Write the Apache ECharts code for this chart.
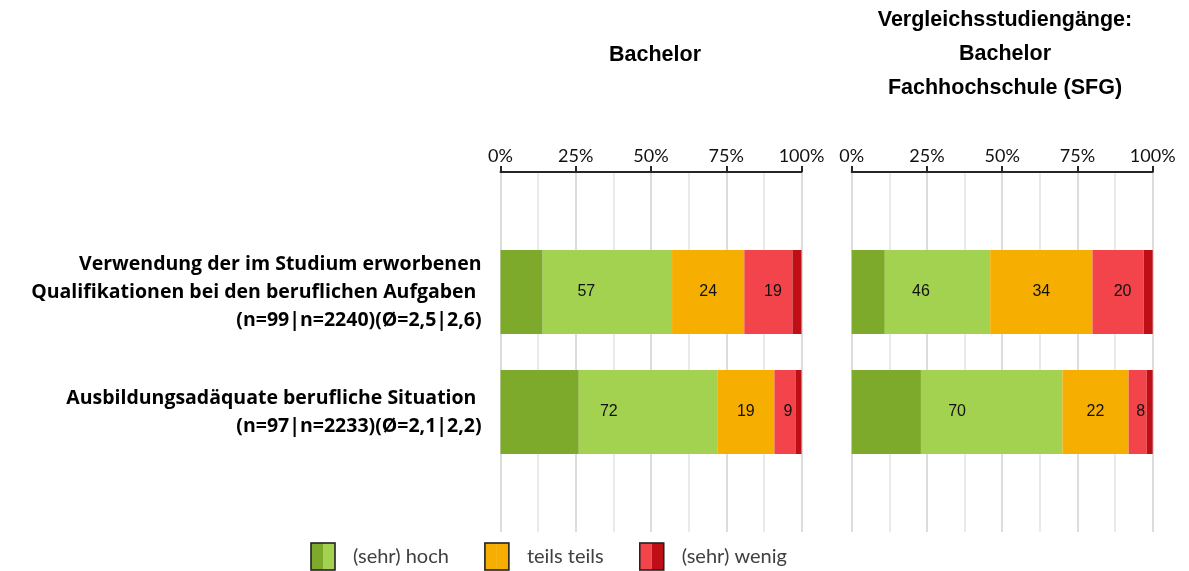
<!DOCTYPE html>
<html>
<head>
<meta charset="utf-8">
<script src="https://cdn.jsdelivr.net/npm/echarts@6/dist/echarts.min.js"></script>
<style>
html,body{margin:0;padding:0;background:#fff;}
#chart{width:1189px;height:571px;}
</style>
</head>
<body>
<div id="chart"></div>
<script>
// ---- data ----
const categories = [
  'Verwendung der im Studium erworbenen\nQualifikationen bei den beruflichen Aufgaben \n(n=99|n=2240)(Ø=2,5|2,6)',
  'Ausbildungsadäquate berufliche Situation \n(n=97|n=2233)(Ø=2,1|2,2)'
];
const panelTitles = ['Bachelor', 'Vergleichsstudiengänge:\nBachelor\nFachhochschule (SFG)'];
const tickValues = [0, 25, 50, 75, 100];
const legendNames = ['(sehr) hoch', 'teils teils', '(sehr) wenig'];

// Bachelor panel (row 1, row 2)
const bachelorSehrHoch  = [14, 26];
const bachelorHoch      = [43, 46];
const bachelorTeils     = [24, 19];
const bachelorWenig     = [16, 7];
const bachelorSehrWenig = [3, 2];

// Vergleich panel (row 1, row 2)
const sfgSehrHoch  = [11, 23];
const sfgHoch      = [35, 47];
const sfgTeils     = [34, 22];
const sfgWenig     = [17, 6];
const sfgSehrWenig = [3, 2];

// ---- styling ----
const C = {
  darkGreen: '#7EAA2C', lightGreen: '#A3D250', orange: '#F6AF00',
  lightRed: '#F2444A', darkRed: '#BF0E15'
};
const labelFont = 'Lato, "Open Sans", sans-serif';
const catFont = '"Open Sans", Lato, sans-serif';
const helv = '"Liberation Sans", Arial, sans-serif';

const panels = [
  {sh: bachelorSehrHoch, h: bachelorHoch, t: bachelorTeils, w: bachelorWenig, sw: bachelorSehrWenig},
  {sh: sfgSehrHoch, h: sfgHoch, t: sfgTeils, w: sfgWenig, sw: sfgSehrWenig}
];
const gridLefts = [500.5, 851.7];
const pad = a => ['-'].concat(a).concat(['-']);
const yCats = [''].concat(categories).concat(['']);

const grids = [], xAxes = [], yAxes = [], series = [];
panels.forEach((p, i) => {
  grids.push({left: gridLefts[i], top: 172, width: 301, height: 360, containLabel: false});
  xAxes.push({
    type: 'value', gridIndex: i, position: 'top', min: 0, max: 100, interval: 25,
    axisLine: {show: true, lineStyle: {color: '#262626', width: 2}},
    axisTick: {show: true, length: 6, lineStyle: {color: '#262626', width: 2}},
    axisLabel: {formatter: v => tickValues.indexOf(v) >= 0 ? v + '%' : '', fontFamily: labelFont, fontSize: 18, color: '#111', margin: 7},
    splitLine: {show: true, lineStyle: {color: '#dcdcdc', width: 2}},
    minorTick: {show: false, splitNumber: 2},
    minorSplitLine: {show: true, lineStyle: {color: '#e3e3e3', width: 1.5}}
  });
  yAxes.push({
    type: 'category', gridIndex: i, data: yCats, inverse: true, boundaryGap: false,
    axisLine: {show: false}, axisTick: {show: false}, splitLine: {show: false},
    axisLabel: {show: i === 0, interval: 0, margin: 19, align: 'right', fontFamily: catFont, fontWeight: 'bold', fontSize: 19.5, lineHeight: 28, color: '#000'}
  });
  const base = {type: 'bar', xAxisIndex: i, yAxisIndex: i, barWidth: 84, barGap: '-100%', silent: true, stack: 'seg' + i};
  [['sehr hoch', p.sh, C.darkGreen], ['hoch', p.h, C.lightGreen], ['teils', p.t, C.orange],
   ['wenig', p.w, C.lightRed], ['sehr wenig', p.sw, C.darkRed]].forEach(([n, d, c]) => {
    series.push(Object.assign({}, base, {name: n, data: pad(d), itemStyle: {color: c}}));
  });
  const sums = [p.sh.map((v, k) => v + p.h[k]), p.t.slice(), p.w.map((v, k) => v + p.sw[k])];
  legendNames.forEach((n, j) => {
    series.push(Object.assign({}, base, {
      name: n, stack: 'lbl' + i, data: pad(sums[j]), z: 5,
      itemStyle: {color: 'rgba(0,0,0,0)'},
      label: {show: true, position: 'inside', color: '#111', fontFamily: helv, fontSize: 16}
    }));
  });
});

function icon(c1, c2) {
  const svg = '<svg xmlns="http://www.w3.org/2000/svg" width="38" height="29" viewBox="0 0 38 29">' +
    '<rect x="1" y="1" width="12" height="27" fill="' + c1 + '"/>' +
    '<rect x="13" y="1" width="12" height="27" fill="' + c2 + '"/>' +
    '<rect x="1" y="1" width="24" height="27" fill="none" stroke="#222" stroke-width="1.6"/></svg>';
  return 'image://data:image/svg+xml;charset=utf-8,' + encodeURIComponent(svg);
}

const option = {
  backgroundColor: '#fff',
  animation: false,
  title: [
    {text: panelTitles[0], left: 655, top: 44, padding: 0, textAlign: 'center',
     textStyle: {fontFamily: helv, fontWeight: 'bold', fontSize: 21.5, color: '#000'}},
    {text: panelTitles[1], left: 1005, top: 3, padding: 0, textAlign: 'center',
     textStyle: {fontFamily: helv, fontWeight: 'bold', fontSize: 21.5, lineHeight: 34, color: '#000'}}
  ],
  legend: {
    left: 310, top: 542, padding: 0, itemWidth: 38, itemHeight: 29, itemGap: 35,
    selectedMode: false,
    data: [
      {name: legendNames[0], icon: icon(C.darkGreen, C.lightGreen)},
      {name: legendNames[1], icon: icon(C.orange, C.orange)},
      {name: legendNames[2], icon: icon(C.lightRed, C.darkRed)}
    ],
    textStyle: {fontFamily: labelFont, fontSize: 20, color: '#404040'}
  },
  grid: grids, xAxis: xAxes, yAxis: yAxes, series: series
};

const chart = echarts.init(document.getElementById('chart'), null, {renderer: 'canvas'});
chart.setOption(option);
</script>
</body>
</html>
